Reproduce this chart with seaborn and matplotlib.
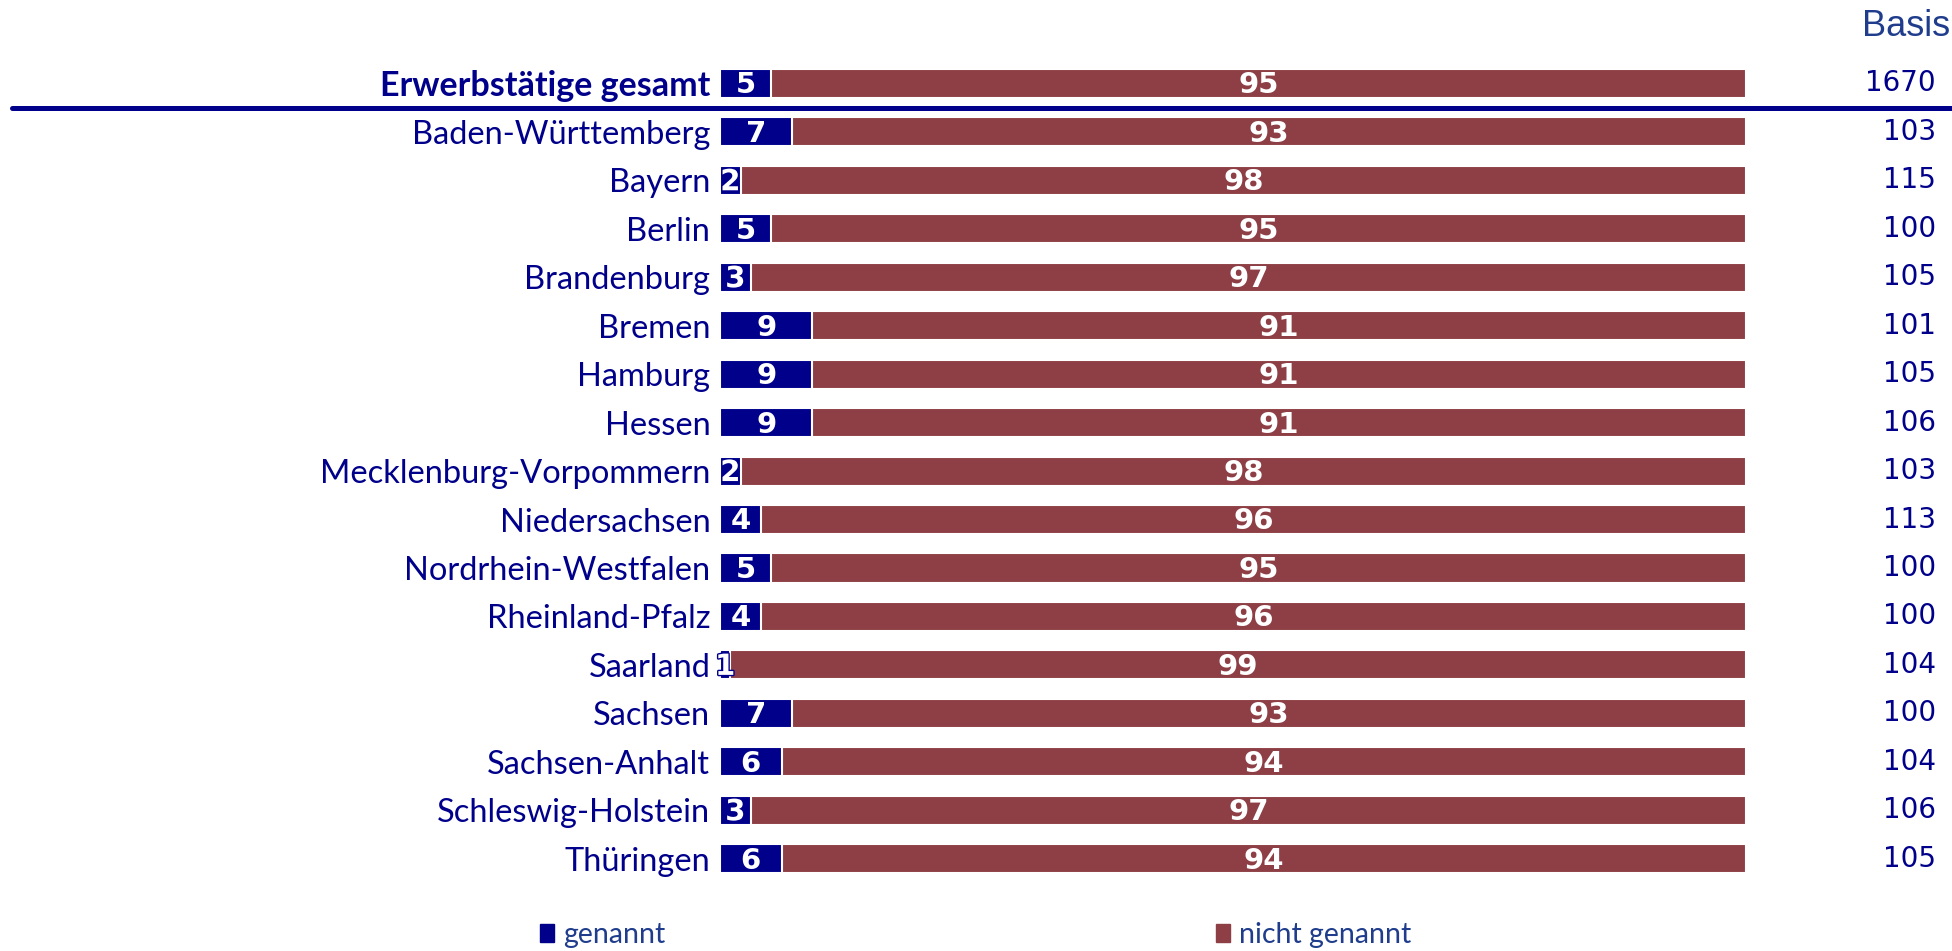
import numpy as np
import pandas as pd
import seaborn as sns
import matplotlib.pyplot as plt
from matplotlib.lines import Line2D
from matplotlib.patches import Patch
from matplotlib.transforms import blended_transform_factory
import matplotlib.patheffects as pe

# Daten
regionen = ['Erwerbstätige gesamt', 'Baden-Württemberg', 'Bayern', 'Berlin', 'Brandenburg',
            'Bremen', 'Hamburg', 'Hessen', 'Mecklenburg-Vorpommern', 'Niedersachsen',
            'Nordrhein-Westfalen', 'Rheinland-Pfalz', 'Saarland', 'Sachsen',
            'Sachsen-Anhalt', 'Schleswig-Holstein', 'Thüringen']
genannt = [5, 7, 2, 5, 3, 9, 9, 9, 2, 4, 5, 4, 1, 7, 6, 3, 6]
nicht_genannt = [95, 93, 98, 95, 97, 91, 91, 91, 98, 96, 95, 96, 99, 93, 94, 97, 94]
basis = [1670, 103, 115, 100, 105, 101, 105, 106, 103, 113, 100, 100, 104, 100, 104, 106, 105]

navy = '#00008B'
maroon = '#8E3F46'
header_blue = '#1F3D8C'

sns.set_theme(style='white')
plt.rcParams['font.family'] = ['Lato', 'DejaVu Sans']

df = pd.DataFrame({'region': regionen, 'genannt': genannt, 'nicht': nicht_genannt})
df['gesamt'] = df['genannt'] + df['nicht']

W, H = 1952, 951
fig = plt.figure(figsize=(W / 100, H / 100), dpi=100)
ax = fig.add_axes([720 / W, 1 - 883 / H, 1026 / W, (883 - 59.2) / H])

# gestapelt: erst Gesamt (rot), dann genannt (blau) darüber
sns.barplot(data=df, x='gesamt', y='region', color=maroon, saturation=1, width=0.6,
            edgecolor='white', linewidth=1.5, ax=ax)
sns.barplot(data=df, x='genannt', y='region', color=navy, saturation=1, width=0.6,
            edgecolor='white', linewidth=1.5, ax=ax)

ax.set_xlim(0, 100)
ax.set_ylim(len(regionen) - 0.5, -0.5)
ax.set_xlabel('')
ax.set_ylabel('')
ax.set_xticks([])
sns.despine(ax=ax, left=True, bottom=True)
ax.tick_params(axis='y', length=0, pad=7, labelsize=23.5, labelcolor=navy)
ax.get_yticklabels()[0].set_fontweight('bold')
ax.get_yticklabels()[0].set_fontsize(24.5)

# Werte in den Balken
stroke = [pe.withStroke(linewidth=2, foreground=navy)]
for i, (g, n) in enumerate(zip(genannt, nicht_genannt)):
    ax.text(g / 2, i + 0.04, str(g), ha='center', va='center', color='white',
            fontsize=21, fontweight='bold', family='DejaVu Sans',
            path_effects=stroke if g < 4 else None)
    ax.text(g + n / 2, i + 0.04, str(n), ha='center', va='center', color='white',
            fontsize=21, fontweight='bold', family='DejaVu Sans')

# Basis-Spalte
tr = blended_transform_factory(fig.transFigure, ax.transData)
for i, b in enumerate(basis):
    ax.text(1936 / W, i, str(b), transform=tr, ha='right', va='center',
            color=navy, fontsize=20, family='DejaVu Sans')
fig.text(1950 / W, 1 - 27 / H, 'Basis', ha='right', va='center', color=header_blue,
         fontsize=26, family='Liberation Sans')

# Trennlinie unter Gesamt
fig.add_artist(Line2D([12 / W, 1], [0.5, 0.5], transform=tr, color=navy, linewidth=3.6))

# Legende
leg_kw = dict(frameon=False, loc='center left', fontsize=20.5, handlelength=0.5,
              handleheight=0.6, handletextpad=0.3, borderpad=0, borderaxespad=0,
              labelcolor=header_blue)
fig.legend(handles=[Patch(color=navy, label='genannt')],
           bbox_to_anchor=(540 / W, 1 - 935 / H), **leg_kw)
fig.legend(handles=[Patch(color=maroon, label='nicht genannt')],
           bbox_to_anchor=(1216 / W, 1 - 935 / H), **leg_kw)

fig.savefig('out.png', dpi=100)
